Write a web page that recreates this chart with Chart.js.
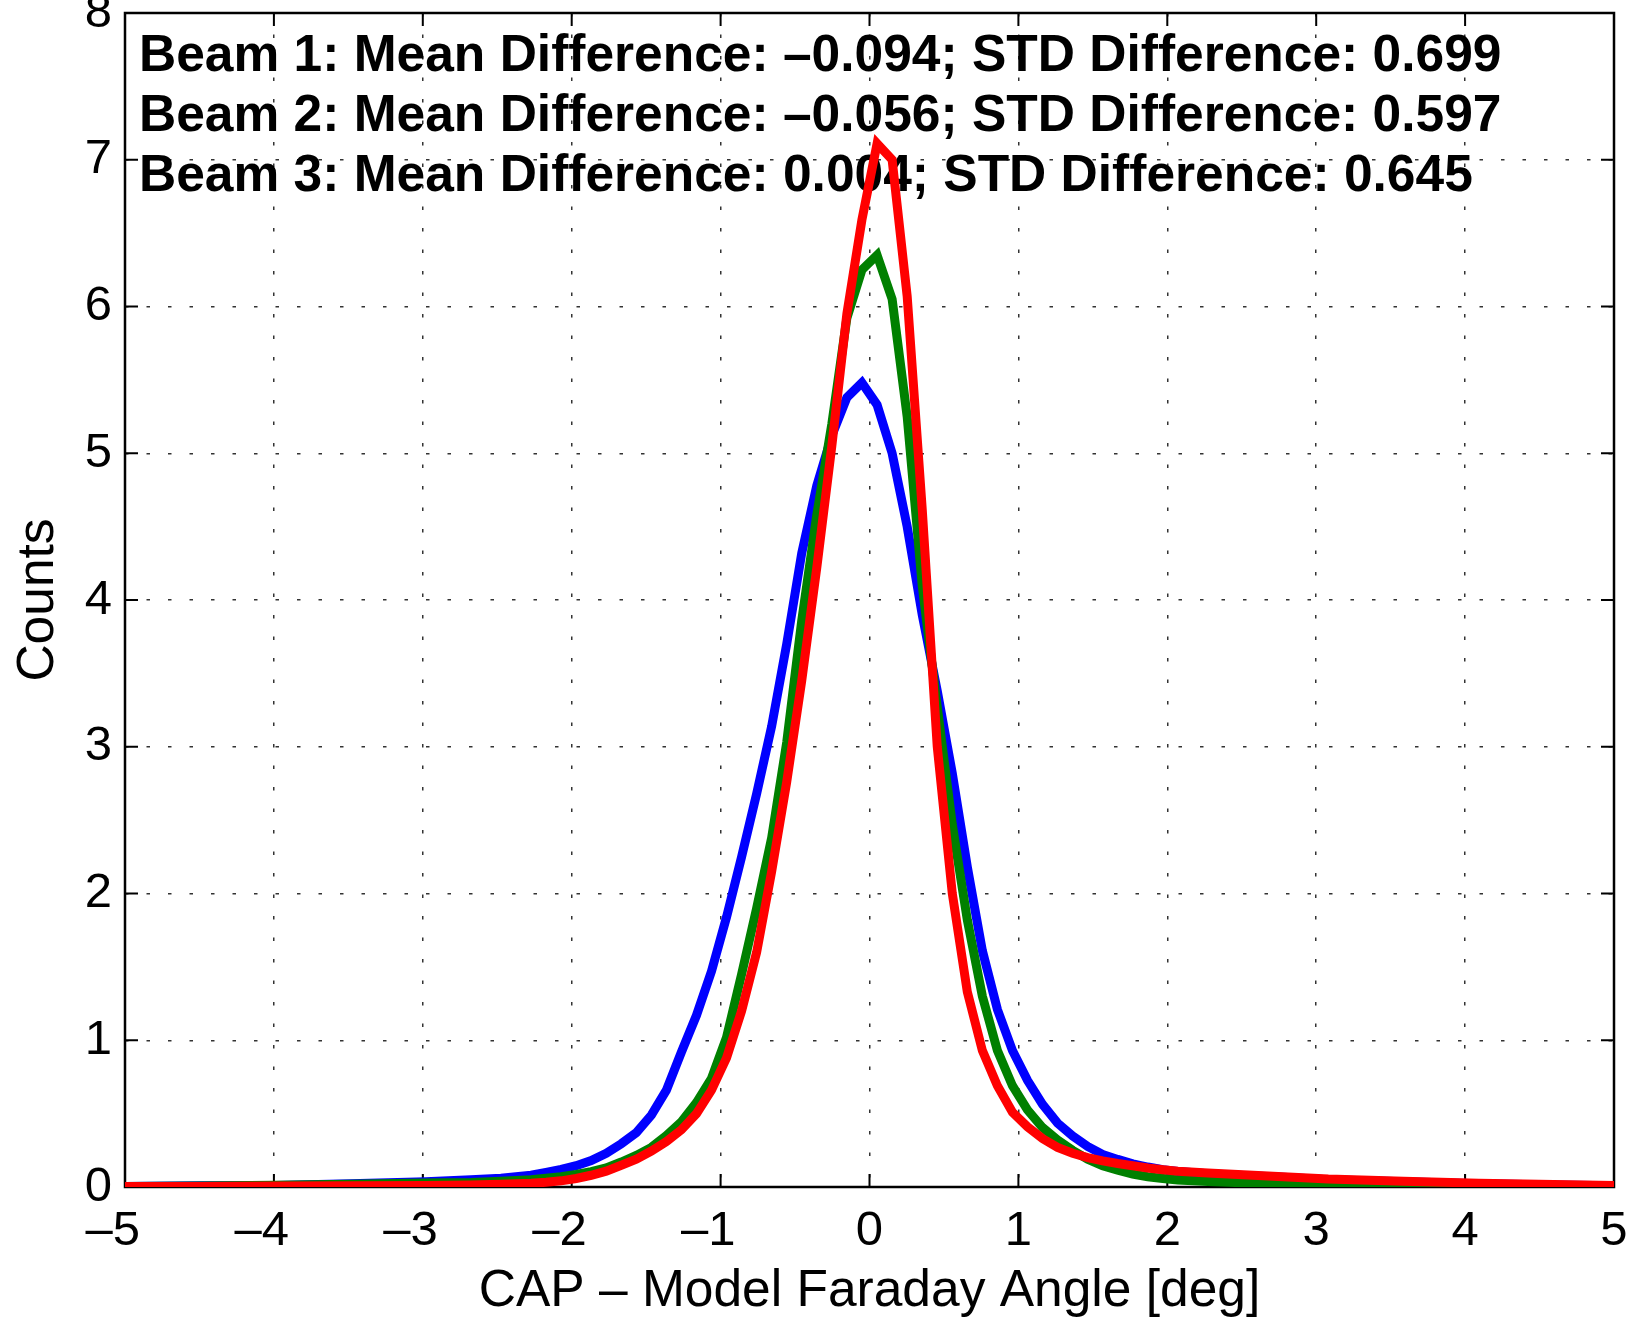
<!DOCTYPE html>
<html>
<head>
<meta charset="utf-8">
<script src="https://cdn.jsdelivr.net/npm/chart.js@4.4.1/dist/chart.umd.min.js"></script>
<style>
  html, body { margin: 0; padding: 0; background: #fff; }
  canvas { display: block; }
</style>
</head>
<body>
<canvas id="faradayChart" width="1633" height="1319"></canvas>
<script>
// bin centres in deg (dense around the peak, thinned out in the flat tails)
const angles = [
  -5, -4.495, -3.990, -3.485, -2.980, -2.677, -2.475, -2.273,
  -2.172, -2.071, -1.970, -1.869, -1.768, -1.667, -1.566, -1.465, -1.364, -1.263, -1.162,
  -1.061, -0.960, -0.859, -0.758, -0.657, -0.556, -0.455, -0.354, -0.253, -0.152, -0.051,
  0.051, 0.152, 0.253, 0.354, 0.455, 0.556, 0.657, 0.758, 0.859, 0.960, 1.061,
  1.162, 1.263, 1.364, 1.465, 1.566, 1.667, 1.768, 1.869, 1.970, 2.071,
  2.273, 2.475, 2.778, 3.081, 3.586, 4.091, 4.596, 5
];

const beam1Counts = [
  0.004, 0.008, 0.010, 0.022, 0.035, 0.049, 0.060, 0.080,
  0.10, 0.12, 0.145, 0.18, 0.23, 0.295, 0.37, 0.49, 0.66, 0.92, 1.17,
  1.47, 1.84, 2.25, 2.68, 3.14, 3.70, 4.32, 4.78, 5.12, 5.38, 5.48,
  5.33, 5.00, 4.50, 3.90, 3.38, 2.82, 2.18, 1.61, 1.21, 0.93, 0.727,
  0.563, 0.435, 0.348, 0.276, 0.222, 0.188, 0.158, 0.136, 0.118, 0.106,
  0.090, 0.080, 0.066, 0.050, 0.036, 0.023, 0.014, 0.008
];

const beam2Counts = [
  0.004, 0.007, 0.012, 0.018, 0.027, 0.031, 0.040, 0.050,
  0.060, 0.070, 0.085, 0.105, 0.13, 0.17, 0.215, 0.27, 0.35, 0.445, 0.575,
  0.74, 1.02, 1.45, 1.90, 2.38, 3.03, 3.86, 4.58, 5.20, 5.92, 6.25,
  6.35, 6.05, 5.25, 4.10, 3.27, 2.47, 1.82, 1.30, 0.93, 0.69, 0.525,
  0.405, 0.32, 0.25, 0.19, 0.145, 0.115, 0.088, 0.070, 0.058, 0.048,
  0.038, 0.030, 0.024, 0.019, 0.014, 0.009, 0.006, 0.004
];

const beam3Counts = [
  0.003, 0.004, 0.006, 0.008, 0.011, 0.014, 0.018, 0.025,
  0.032, 0.042, 0.058, 0.080, 0.108, 0.148, 0.19, 0.245, 0.31, 0.39, 0.50,
  0.66, 0.88, 1.20, 1.60, 2.15, 2.76, 3.45, 4.22, 5.05, 5.95, 6.59,
  7.11, 7.00, 6.07, 4.62, 3.00, 2.00, 1.33, 0.93, 0.69, 0.51, 0.41,
  0.33, 0.27, 0.23, 0.20, 0.178, 0.16, 0.145, 0.13, 0.118, 0.108,
  0.095, 0.085, 0.070, 0.054, 0.040, 0.026, 0.017, 0.010
];

const beamNames = ['Beam 1', 'Beam 2', 'Beam 3'];
const meanDiffs = ['\u20130.094', '\u20130.056', '0.004'];
const stdDiffs = ['0.699', '0.597', '0.645'];

const xTicks = [-5, -4, -3, -2, -1, 0, 1, 2, 3, 4, 5];
const yTicks = [0, 1, 2, 3, 4, 5, 6, 7, 8];

const FONT = '"Liberation Sans", Arial, Helvetica, sans-serif';
const LINE_W = 9;

function toPoints(counts) {
    return angles.map((a, i) => ({ x: a, y: counts[i] }));
}

// matlab style: full box, inward ticks, stats text under the curves
const axesBox = {
    id: 'axesBox',
    beforeDatasetsDraw(chart) {
        const { ctx, chartArea: a, scales } = chart;
        ctx.save();

        ctx.fillStyle = '#000';
        ctx.font = 'bold 51.5px ' + FONT;
        ctx.textBaseline = 'alphabetic';
        ctx.textAlign = 'left';
        beamNames.forEach((name, i) => {
            const line = `${name}: Mean Difference: ${meanDiffs[i]}; STD Difference: ${stdDiffs[i]}`;
            ctx.fillText(line, a.left + 14, a.top + 58 + i * 60);
        });

        ctx.strokeStyle = '#000';
        ctx.lineWidth = 2.5;
        ctx.strokeRect(a.left, a.top, a.right - a.left, a.bottom - a.top);

        const tick = 13;
        ctx.lineWidth = 2;
        ctx.beginPath();
        xTicks.forEach(v => {
            const px = scales.x.getPixelForValue(v);
            ctx.moveTo(px, a.bottom); ctx.lineTo(px, a.bottom - tick);
            ctx.moveTo(px, a.top); ctx.lineTo(px, a.top + tick);
        });
        yTicks.forEach(v => {
            const py = scales.y.getPixelForValue(v);
            ctx.moveTo(a.left, py); ctx.lineTo(a.left + tick, py);
            ctx.moveTo(a.right, py); ctx.lineTo(a.right - tick, py);
        });
        ctx.stroke();
        ctx.restore();
    }
};

const gridStyle = { color: '#333', lineWidth: 1.5, drawTicks: false };
const dashStyle = { display: false, dash: [3.5, 18] };
// negative labels: the digit sits on the tick, the dash hangs to the left
const xLabel = v => (v < 0 ? '\u2013' + Math.abs(v) + '\u2002' : String(v));

new Chart(document.getElementById('faradayChart'), {
    type: 'line',
    data: {
        datasets: [
            { label: 'Beam 1', data: toPoints(beam1Counts), borderColor: '#0000ff', borderWidth: LINE_W, order: 3 },
            { label: 'Beam 2', data: toPoints(beam2Counts), borderColor: '#008000', borderWidth: LINE_W, order: 2 },
            { label: 'Beam 3', data: toPoints(beam3Counts), borderColor: '#ff0000', borderWidth: LINE_W, order: 1 }
        ]
    },
    options: {
        responsive: false,
        animation: false,
        devicePixelRatio: 1,
        layout: { padding: { top: 13, right: 19, left: 0, bottom: 0 } },
        elements: {
            line: { tension: 0, fill: false },
            point: { radius: 0 }
        },
        plugins: {
            legend: { display: false },
            tooltip: { enabled: false }
        },
        scales: {
            x: {
                type: 'linear',
                min: -5,
                max: 5,
                afterBuildTicks: s => { s.ticks = xTicks.map(v => ({ value: v })); },
                afterFit: s => { s.height = 132; s.paddingLeft = 0; s.paddingRight = 0; },
                grid: gridStyle,
                border: dashStyle,
                ticks: {
                    color: '#000',
                    padding: 20,
                    maxRotation: 0,
                    font: { family: FONT, size: 49, lineHeight: 1 },
                    callback: xLabel
                },
                title: {
                    display: true,
                    text: 'CAP \u2013 Model Faraday Angle [deg]',
                    color: '#000',
                    padding: { top: 0, bottom: 0 },
                    font: { family: FONT, size: 51.5, lineHeight: 1.05 }
                }
            },
            y: {
                min: 0,
                max: 8,
                afterBuildTicks: s => { s.ticks = yTicks.map(v => ({ value: v })); },
                afterFit: s => { s.width = 125; s.paddingTop = 0; s.paddingBottom = 0; },
                grid: gridStyle,
                border: dashStyle,
                ticks: {
                    color: '#000',
                    padding: 13,
                    font: { family: FONT, size: 49 }
                },
                title: {
                    display: true,
                    text: 'Counts',
                    color: '#000',
                    padding: { top: 8, bottom: 0 },
                    font: { family: FONT, size: 51.5 }
                }
            }
        }
    },
    plugins: [axesBox]
});
</script>
</body>
</html>
